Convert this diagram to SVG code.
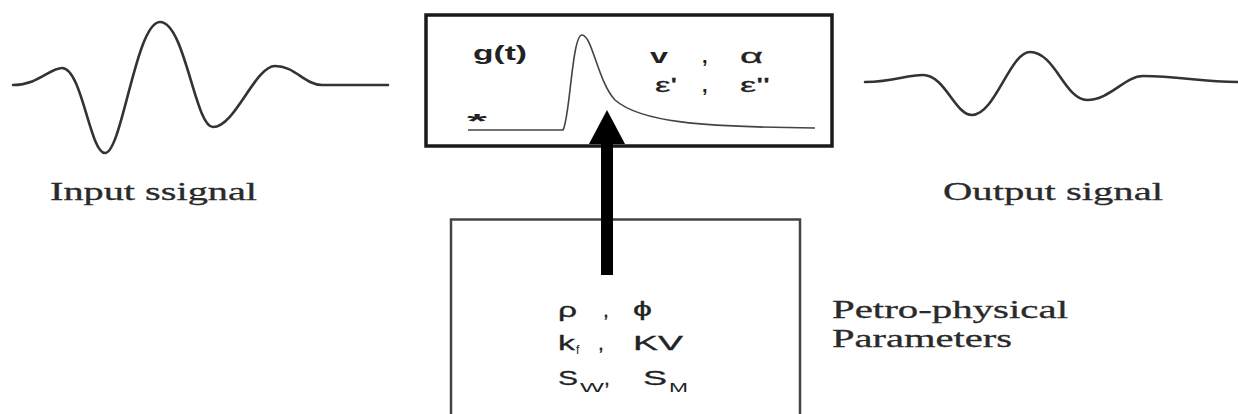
<svg xmlns="http://www.w3.org/2000/svg" width="1238" height="414" viewBox="0 0 1238 414">
<style>
.wave{fill:none;stroke:#333;stroke-width:2.6;stroke-linecap:round;stroke-linejoin:round}
.pulse{fill:none;stroke:#444;stroke-width:1.6}
.box{fill:#fff;stroke:#1a1a1a;stroke-width:3.5}
.box2{fill:#fff;stroke:#444;stroke-width:2.5}
.lbl{font-family:"Liberation Serif","Times New Roman",serif;font-size:25px;fill:#2a2a2a;stroke:#2a2a2a;stroke-width:0.3}
.sym{font-family:"Liberation Sans",Arial,sans-serif;font-size:21px;fill:#222;stroke:#222;stroke-width:0.3}
.symb{font-family:"Liberation Sans",Arial,sans-serif;font-size:20px;font-weight:bold;fill:#222}
.sub{font-family:"Liberation Sans",Arial,sans-serif;font-size:12px;fill:#222}
</style>
<defs>
<marker id="ah" viewBox="0 0 34 36" refX="2" refY="18" markerWidth="34" markerHeight="36" markerUnits="userSpaceOnUse" orient="auto">
<path d="M0,0 L34,18 L0,36 Z" fill="#000"/>
</marker>
</defs>

<g id="input-signal">
<path class="wave" d="M13,85 C38,85 50,68 62,68 C82,68 90,153 105,153 C122,153 136,22 160,22 C185,22 195,127 213,127 C235,127 255,66 275,66 C295,66 305,85 322,85 L388,85"/>
<text class="lbl" x="50" y="200" textLength="207" lengthAdjust="spacingAndGlyphs">Input ssignal</text>
</g>

<g id="output-signal">
<path class="wave" d="M865,82 C895,82 905,75 923,75 C945,75 955,115 972,115 C995,115 1010,52 1030,52 C1055,52 1065,100 1087,100 C1110,100 1125,76 1143,76 C1180,76 1200,82 1238,82"/>
<text class="lbl" x="943" y="200" textLength="220" lengthAdjust="spacingAndGlyphs">Output signal</text>
</g>

<g id="transfer-function">
<rect class="box" x="426" y="15" width="406" height="131"/>
<path class="pulse" d="M468,130 L563,130 C570,118 572,35 582,35 C592,35 598,82 615,100 C640,122 700,127 815,128"/>
<text class="symb" x="473" y="60" textLength="54" lengthAdjust="spacingAndGlyphs">g(t)</text>
<text class="symb" x="467" y="128" font-size="30" textLength="20" lengthAdjust="spacingAndGlyphs">*</text>
<text class="symb" x="650" y="63" textLength="18" lengthAdjust="spacingAndGlyphs">v</text>
<text class="symb" x="702" y="63">,</text>
<text class="sym" x="740" y="63" textLength="23" lengthAdjust="spacingAndGlyphs">α</text>
<text class="sym" x="655" y="92" textLength="22" lengthAdjust="spacingAndGlyphs">ε'</text>
<text class="symb" x="702" y="92">,</text>
<text class="sym" x="740" y="92" textLength="30" lengthAdjust="spacingAndGlyphs">ε''</text>
</g>

<g id="petro-physical">
<rect class="box2" x="451" y="219.5" width="349" height="210"/>
<text class="sym" x="558" y="317" textLength="19" lengthAdjust="spacingAndGlyphs">ρ</text>
<text class="sym" x="603" y="317">,</text>
<text class="sym" x="633" y="316" textLength="19" lengthAdjust="spacingAndGlyphs">ϕ</text>
<text class="sym" x="558" y="350" textLength="17" lengthAdjust="spacingAndGlyphs">k</text>
<text class="sub" x="576" y="354">f</text>
<text class="sym" x="598" y="350">,</text>
<text class="sym" x="633" y="350" textLength="50" lengthAdjust="spacingAndGlyphs">KV</text>
<text class="sym" x="558" y="385" textLength="20" lengthAdjust="spacingAndGlyphs">S</text>
<text class="sub" x="580" y="392" font-size="13" textLength="24" lengthAdjust="spacingAndGlyphs">W</text>
<text class="sym" x="604" y="385">,</text>
<text class="sym" x="643" y="385" textLength="24" lengthAdjust="spacingAndGlyphs">S</text>
<text class="sub" x="669" y="392" font-size="13" textLength="19" lengthAdjust="spacingAndGlyphs">M</text>
</g>

<g id="petro-label">
<text class="lbl" x="832" y="318" textLength="236" lengthAdjust="spacingAndGlyphs">Petro-physical</text>
<text class="lbl" x="832" y="347" textLength="180" lengthAdjust="spacingAndGlyphs">Parameters</text>
</g>

<g id="connectors">
<line x1="607" y1="275" x2="607" y2="142" stroke="#000" stroke-width="12" marker-end="url(#ah)"/>
</g>
</svg>
